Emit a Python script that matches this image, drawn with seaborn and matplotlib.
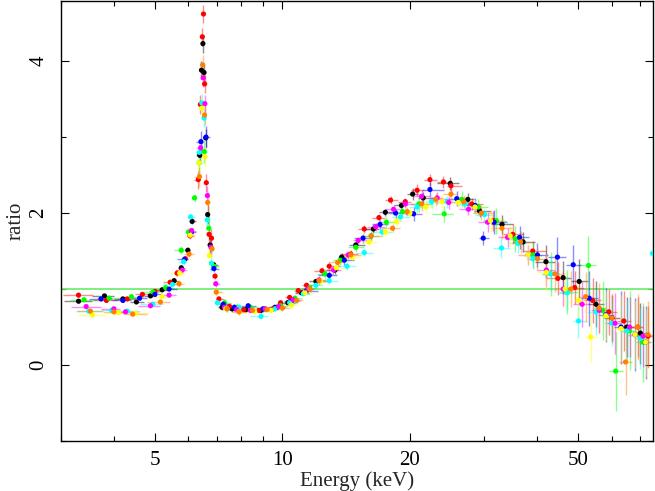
import numpy as np
import pandas as pd
import seaborn as sns
import matplotlib
matplotlib.use("Agg")
import matplotlib.pyplot as plt
from matplotlib.ticker import FixedLocator, FixedFormatter, NullFormatter, MultipleLocator

# ---- ratio data (energy in keV), one set per colour ----
black_E = [3.3, 3.8, 4.2, 4.52, 4.88, 5.2, 5.55, 5.77, 5.98, 6.12, 6.38, 6.44, 6.49, 6.53, 6.59, 6.66,
           6.75, 6.88, 7.2, 7.6, 8.2, 8.9, 9.6, 10.3, 11.1, 12.0, 13.3, 13.8, 14.9, 16.4, 17.5, 19.1,
           20.3, 21.5, 24.9, 27.4, 29.2, 33.0, 37.0, 41.9, 46.0, 50.2, 55.0, 60.0, 65.0, 70.0]
black_R = [0.84, 0.91, 0.87, 0.83, 0.91, 0.99, 1.11, 1.28, 1.51, 1.89, 2.76, 3.88, 4.23, 3.85, 2.99, 1.98,
           1.58, 1.32, 0.76, 0.74, 0.73, 0.72, 0.76, 0.82, 0.95, 1.10, 1.25, 1.42, 1.58, 1.79, 2.01, 2.10,
           2.25, 2.20, 2.39, 2.18, 2.03, 1.85, 1.62, 1.36, 1.15, 1.10, 0.80, 0.62, 0.50, 0.42]

red_E = [3.3, 3.84, 4.3, 4.67, 5.0, 5.43, 5.64, 5.9, 6.05, 6.33, 6.40, 6.47, 6.51, 6.55, 6.61, 6.71,
         6.8, 6.93, 7.08, 7.5, 8.1, 8.8, 9.5, 9.9, 10.4, 10.9, 11.4, 12.4, 12.9, 14.5, 15.6, 16.9,
         18.0, 19.5, 20.8, 22.3, 24.0, 25.0, 28.0, 31.5, 35.0, 39.0, 44.7, 49.0, 54.0, 59.0, 64.0, 69.0, 73.0]
red_R = [0.92, 0.85, 0.87, 0.93, 0.97, 1.09, 1.21, 1.40, 1.70, 2.44, 3.43, 4.32, 4.62, 3.70, 2.40, 1.72,
         1.67, 1.17, 0.87, 0.77, 0.73, 0.72, 0.74, 0.82, 0.89, 0.98, 1.05, 1.24, 1.30, 1.46, 1.79, 1.94,
         2.17, 2.15, 2.30, 2.44, 2.41, 2.36, 2.12, 1.90, 1.72, 1.50, 1.14, 1.02, 0.85, 0.70, 0.58, 0.50, 0.38]

green_E = [3.4, 3.9, 4.4, 4.95, 5.3, 5.77, 6.0, 6.2, 6.36, 6.54, 6.7, 6.9, 7.3, 7.8, 8.4, 9.1, 9.9,
           10.7, 11.6, 12.6, 13.7, 14.9, 16.2, 17.6, 19.2, 21.0, 24.1, 26.5, 29.0, 32.0, 35.5, 39.0,
           43.0, 47.0, 52.8, 57.0, 61.2, 66.0, 71.0]
green_R = [0.86, 0.88, 0.90, 0.96, 1.02, 1.51, 1.75, 2.20, 2.66, 2.81, 1.80, 1.30, 0.82, 0.76, 0.76, 0.74, 0.78,
           0.88, 1.02, 1.20, 1.38, 1.55, 1.70, 1.88, 2.02, 2.12, 1.99, 2.18, 2.08, 1.90, 1.66, 1.45,
           1.20, 0.96, 1.31, 0.72, -0.08, 0.45, 0.30]

blue_E = [3.73, 4.2, 4.6, 5.0, 5.4, 5.87, 6.1, 6.42, 6.6, 6.89, 7.25, 7.7, 8.3, 9.0, 9.7, 10.5, 11.4,
          12.9, 14.0, 15.5, 17.0, 18.5, 20.4, 22.3, 25.8, 28.5, 29.8, 31.6, 36.3, 40.0, 44.6, 48.6,
          53.0, 58.0, 63.0, 68.0, 72.0]
blue_R = [0.87, 0.85, 0.88, 0.93, 1.00, 1.39, 1.75, 2.94, 3.00, 1.27, 0.80, 0.76, 0.78, 0.74, 0.76, 0.84, 0.98,
          1.18, 1.38, 1.67, 1.85, 2.00, 1.99, 2.31, 2.19, 2.10, 1.67, 1.88, 1.68, 1.45, 1.42, 1.32,
          0.88, 0.66, 0.50, 0.40, 0.30]

cyan_E = [3.49, 3.95, 4.3, 4.94, 5.5, 5.84, 6.07, 6.37, 6.45, 6.53, 6.64, 6.8, 7.02, 7.4, 7.9, 8.9, 9.6,
          10.4, 11.2, 12.0, 12.9, 14.2, 15.6, 17.2, 19.0, 20.8, 22.5, 24.5, 27.0, 30.0, 32.9, 36.0,
          39.0, 43.0, 47.0, 50.0, 55.0, 60.0, 65.0, 70.0]
cyan_R = [0.71, 0.72, 0.71, 0.80, 1.06, 1.36, 1.95, 2.80, 3.45, 3.25, 1.91, 1.34, 0.82, 0.74, 0.76, 0.64, 0.74,
          0.82, 0.94, 1.05, 1.11, 1.30, 1.48, 1.75, 1.95, 2.08, 2.15, 2.15, 2.12, 1.98, 1.54, 1.60,
          1.40, 1.20, 0.95, 0.58, 0.70, 0.55, 0.45, 0.35]

magenta_E = [3.44, 4.0, 4.26, 4.88, 5.4, 5.8, 6.1, 6.41, 6.5, 6.56, 6.65, 6.78, 6.96, 7.3, 7.8, 8.4, 9.1,
             9.8, 10.6, 11.5, 12.2, 13.2, 14.3, 15.1, 16.6, 18.3, 19.5, 21.3, 23.2, 24.7, 27.5, 30.5,
             34.0, 38.0, 42.0, 46.0, 51.0, 56.0, 61.0, 66.0, 71.0]
magenta_R = [0.77, 0.74, 0.70, 0.78, 0.92, 1.25, 1.77, 2.86, 3.78, 3.44, 2.23, 1.55, 1.07, 0.76, 0.73, 0.72, 0.74,
             0.77, 0.86, 1.00, 1.12, 1.25, 1.45, 1.64, 1.82, 2.05, 2.12, 2.22, 2.20, 2.14, 2.05, 1.88,
             1.68, 1.45, 1.25, 1.00, 0.80, 0.72, 0.55, 0.50, 0.38]

yellow_E = [3.56, 4.1, 4.5, 5.2, 5.72, 6.06, 6.36, 6.45, 6.56, 6.72, 6.98, 7.35, 7.9, 8.6, 9.4, 10.5, 11.3,
            12.3, 13.4, 14.6, 16.0, 17.5, 18.6, 20.0, 21.8, 23.8, 26.0, 28.5, 31.0, 34.5, 38.0, 42.0,
            46.5, 50.0, 53.4, 58.0, 63.0, 68.0, 72.0]
yellow_R = [0.66, 0.69, 0.68, 0.90, 1.21, 1.71, 2.66, 3.38, 2.74, 1.44, 0.96, 0.74, 0.70, 0.71, 0.72, 0.79, 0.95,
            1.10, 1.28, 1.42, 1.62, 1.75, 1.89, 2.00, 2.08, 2.15, 2.14, 2.08, 1.90, 1.70, 1.45, 1.22,
            1.00, 0.85, 0.37, 0.65, 0.48, 0.40, 0.30]

orange_E = [3.52, 4.0, 4.43, 5.15, 5.7, 6.02, 6.37, 6.48, 6.55, 6.66, 6.82, 6.98, 7.4, 7.9, 8.5, 9.2, 10.0,
            10.8, 11.6, 12.2, 13.5, 14.5, 16.2, 18.2, 19.7, 21.3, 23.0, 25.0, 26.8, 29.5, 33.0, 36.5,
            40.0, 44.0, 48.0, 52.0, 56.0, 60.0, 64.6, 69.0, 73.0]
orange_R = [0.71, 0.70, 0.67, 0.83, 1.07, 1.46, 2.48, 3.95, 3.29, 2.14, 1.53, 0.96, 0.74, 0.70, 0.72, 0.73, 0.75,
            0.85, 1.00, 1.11, 1.35, 1.45, 1.70, 1.80, 2.02, 2.12, 2.18, 2.25, 2.15, 2.00, 1.80, 1.62,
            1.40, 1.20, 1.00, 0.90, 0.75, 0.62, 0.04, 0.50, 0.40]

# lone cyan bin at the top edge of the band, huge error
edge_E = [74.8]
edge_R = [1.47]
edge_err = [1.75]

# typical 1-sigma ratio errors per energy band
err_band_edges = [5.5, 6.2, 6.8, 8.0, 12.0, 20.0, 30.0, 40.0, 50.0, 60.0]
err_band_vals = [0.02, 0.04, 0.12, 0.04, 0.03, 0.05, 0.08, 0.13, 0.22, 0.30, 0.40]
noise_scale = {'black': 1.0, 'red': 1.0, 'green': 1.3, 'blue': 1.2,
               'cyan': 1.0, 'magenta': 1.0, 'yellow': 1.1, 'orange': 1.1}

colores = {'black': '#000000', 'red': '#ff0000', 'green': '#00ff00', 'blue': '#0000ff',
           'cyan': '#00ffff', 'magenta': '#ff00ff', 'yellow': '#ffff00', 'orange': '#ff8000'}

series = {'black': (black_E, black_R), 'red': (red_E, red_R), 'green': (green_E, green_R),
          'blue': (blue_E, blue_R), 'cyan': (cyan_E, cyan_R), 'magenta': (magenta_E, magenta_R),
          'yellow': (yellow_E, yellow_R), 'orange': (orange_E, orange_R)}


def anchos_bin(E):
    # half widths of contiguous bins, edges half-way between centres
    E = np.asarray(E, dtype=float)
    mid = (E[1:] + E[:-1]) / 2
    lo = np.concatenate([[E[0] - (mid[0] - E[0])], mid])
    hi = np.concatenate([mid, [E[-1] + (E[-1] - mid[-1])]])
    return E - lo, hi - E


filas = []
for nombre, (E, R) in series.items():
    xlo, xhi = anchos_bin(E)
    err = np.array(err_band_vals)[np.searchsorted(err_band_edges, E)] * noise_scale[nombre]
    for e, r, a, b, s in zip(E, R, xlo, xhi, err):
        filas.append({'set': nombre, 'energy': e, 'ratio': r, 'xlo': a, 'xhi': b, 'yerr': s})
for e, r, s in zip(edge_E, edge_R, edge_err):
    filas.append({'set': 'cyan', 'energy': e, 'ratio': r, 'xlo': 0.2, 'xhi': 0.2, 'yerr': s})
datos = pd.DataFrame(filas)

sns.set_style("ticks")
plt.rcParams['font.family'] = ['Liberation Serif', 'DejaVu Serif']

fig = plt.figure(figsize=(6.55, 4.91), dpi=100)
ax = fig.add_axes([0.0931, 0.1018, 0.9039, 0.896])

ax.axhline(1.0, color='#66ee66', lw=1.2, zorder=1)

for nombre in colores:
    d = datos[datos['set'] == nombre]
    ax.errorbar(d['energy'], d['ratio'], xerr=[d['xlo'], d['xhi']], yerr=d['yerr'],
                fmt='none', ecolor=colores[nombre], alpha=0.45, elinewidth=1.0, capsize=0, zorder=2)

sns.scatterplot(data=datos, x='energy', y='ratio', hue='set', palette=colores,
                hue_order=list(colores), s=14, edgecolor='none', linewidth=0,
                legend=False, ax=ax, zorder=3)

ax.set_xscale('log')
ax.set_xlim(3.0, 75.0)
ax.set_ylim(-1.0, 4.79)

ax.xaxis.set_major_locator(FixedLocator([5, 10, 20, 50]))
ax.xaxis.set_major_formatter(FixedFormatter(['5', '10', '20', '50']))
ax.xaxis.set_minor_locator(FixedLocator([3, 4, 6, 7, 8, 9, 30, 40, 60, 70]))
ax.xaxis.set_minor_formatter(NullFormatter())
ax.yaxis.set_major_locator(MultipleLocator(2))
ax.yaxis.set_minor_locator(MultipleLocator(1))

ax.tick_params(which='both', direction='in', top=True, right=True, width=0.8, colors='black')
ax.tick_params(which='major', length=6)
ax.tick_params(which='minor', length=3.5)
ax.tick_params(axis='x', which='major', labelsize=15, pad=7)
ax.tick_params(axis='y', which='major', labelsize=15, pad=9)
plt.setp(ax.get_yticklabels(), rotation=90, va='center')

for lado in ax.spines.values():
    lado.set_linewidth(1.0)
    lado.set_color('black')

ax.set_xlabel('Energy (keV)', fontsize=15, labelpad=1)
ax.set_ylabel('ratio', fontsize=15, labelpad=3)

plt.savefig('out.png', dpi=100)
plt.close()
